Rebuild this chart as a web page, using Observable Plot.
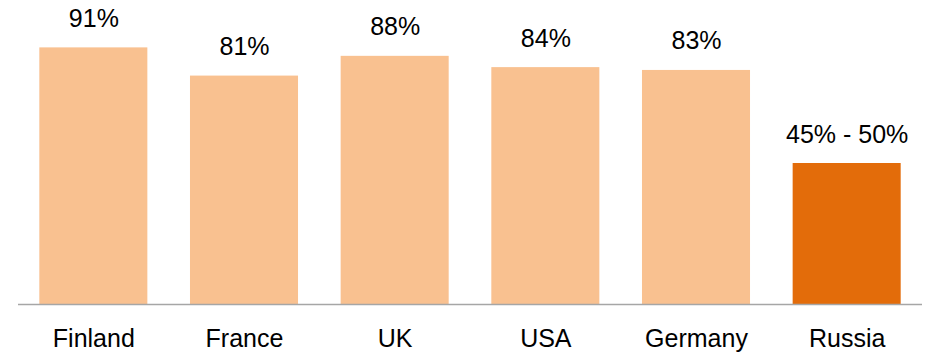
<!DOCTYPE html>
<html>
<head>
<meta charset="utf-8">
<script src="https://cdn.jsdelivr.net/npm/d3@7"></script>
<script src="https://cdn.jsdelivr.net/npm/@observablehq/plot@0.6"></script>
<style>
  html, body { margin: 0; padding: 0; background: #fff; }
  #chart svg { display: block; }
</style>
</head>
<body>
<div id="chart"></div>
<script>
const countries = ["Finland", "France", "UK", "USA", "Germany", "Russia"];
const values = [91, 81, 88, 84, 83, 50];
const valueLabels = ["91%", "81%", "88%", "84%", "83%", "45% - 50%"];
const highlight = [false, false, false, false, false, true];

const data = countries.map((c, i) => ({
  country: c, value: values[i], label: valueLabels[i], hl: highlight[i]
}));

const chart = Plot.plot({
  width: 928,
  height: 354,
  marginLeft: 18,
  marginRight: 6,
  marginTop: 22,
  marginBottom: 50,
  style: { fontFamily: "'Liberation Sans', Arial, sans-serif", fontSize: "25px", color: "#000", background: "#fff" },
  x: { domain: countries, paddingInner: 0.283, paddingOuter: 0.1415, round: false, label: null },
  y: { domain: [0, 100], axis: null },
  marks: [
    Plot.barY(data, { x: "country", y: "value", fill: d => d.hl ? "#E36C0A" : "#F9C190" }),
    Plot.ruleY([0], { stroke: "#A6A6A6", strokeWidth: 1.5 }),
    Plot.text(data, { x: "country", y: "value", text: "label", dy: -29, fontSize: 25, fill: "#000" }),
    Plot.axisX({ tickSize: 0, tickPadding: 25, fontSize: 25, color: "#000" })
  ]
});
document.getElementById("chart").appendChild(chart);
</script>
</body>
</html>
